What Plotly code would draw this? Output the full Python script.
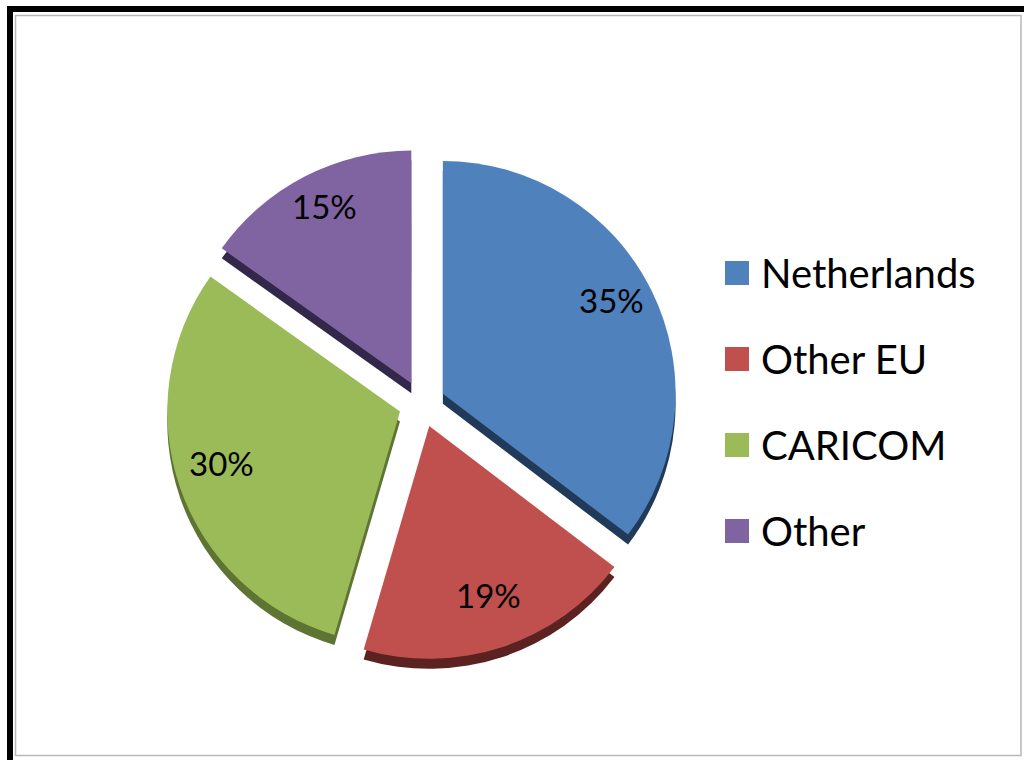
import math
import plotly.graph_objects as go

# Share of trade by partner (percent)
partners = ["Netherlands", "Other EU", "CARICOM", "Other"]
shares = [35, 19, 30, 15]
face_colors = ["#4F81BD", "#C0504D", "#9BBB59", "#8064A2"]
side_colors = ["#223A59", "#5C2221", "#5E7433", "#33284A"]

W, H = 1024, 760
PULL = 0.10

# pie geometry in pixels: centre and half-size of the square domain
cx, cy, half = 422, 404, 256
depth = 10
LABEL_R = 0.91   # label distance from pie centre, as a fraction of the radius
LABEL_LIFT = 10  # labels sit slightly above the slice bisectors


def dom(px_cx, px_cy):
    return dict(
        x=[(px_cx - half) / W, (px_cx + half) / W],
        y=[1 - (px_cy + half) / H, 1 - (px_cy - half) / H],
    )


fig = go.Figure()

# darker copy underneath gives the slices their thickness
fig.add_trace(go.Pie(
    labels=partners, values=shares, sort=False, direction="clockwise",
    rotation=0, pull=[PULL] * 4, domain=dom(cx, cy + depth),
    marker=dict(colors=side_colors, line=dict(width=0)),
    textinfo="none", hoverinfo="skip", showlegend=False,
))

fig.add_trace(go.Pie(
    labels=partners, values=shares, sort=False, direction="clockwise",
    rotation=0, pull=[PULL] * 4, domain=dom(cx, cy),
    marker=dict(colors=face_colors, line=dict(width=0)),
    textinfo="none", showlegend=False,
))

shapes = [
    # outer black frame
    dict(type="rect", xref="paper", yref="paper",
         x0=10 / W, x1=1040 / W, y0=1 - 780 / H, y1=1 - 9 / H,
         line=dict(color="#000000", width=6), fillcolor="rgba(0,0,0,0)"),
    # inner grey frame
    dict(type="rect", xref="paper", yref="paper",
         x0=15.5 / W, x1=1021 / W, y0=1 - 755.5 / H, y1=1 - 15.5 / H,
         line=dict(color="#B8B8B8", width=1.5), fillcolor="rgba(0,0,0,0)"),
]

annotations = []

# percentage labels placed along each slice's bisector
radius = 2 * half / (2 + 2 * PULL)
total = sum(shares)
start = 0.0
for v in shares:
    span = 360.0 * v / total
    mid = math.radians(start + span / 2)
    start += span
    px = cx + LABEL_R * radius * math.sin(mid)
    py = cy - LABEL_LIFT - LABEL_R * radius * math.cos(mid)
    annotations.append(dict(
        xref="paper", yref="paper", x=px / W, y=1 - py / H,
        xanchor="center", yanchor="middle", showarrow=False,
        text=f"{v}%", font=dict(family="Lato", size=33, color="#000000"),
    ))

# legend
leg_x, leg_y0, leg_step, box = 725, 273, 86, 24
for i, (name, col) in enumerate(zip(partners, face_colors)):
    yc = leg_y0 + i * leg_step
    shapes.append(dict(
        type="rect", xref="paper", yref="paper",
        x0=leg_x / W, x1=(leg_x + box) / W,
        y0=1 - (yc + box / 2) / H, y1=1 - (yc - box / 2) / H,
        line=dict(width=0), fillcolor=col,
    ))
    annotations.append(dict(
        xref="paper", yref="paper", x=759 / W, y=1 - yc / H,
        xanchor="left", yanchor="middle", showarrow=False, text=name,
        font=dict(family="Lato", size=40, color="#000000"),
    ))

fig.update_layout(
    width=W, height=H,
    margin=dict(l=0, r=0, t=0, b=0),
    paper_bgcolor="#FFFFFF", plot_bgcolor="#FFFFFF",
    shapes=shapes, annotations=annotations,
)

fig.write_html("out.html")
